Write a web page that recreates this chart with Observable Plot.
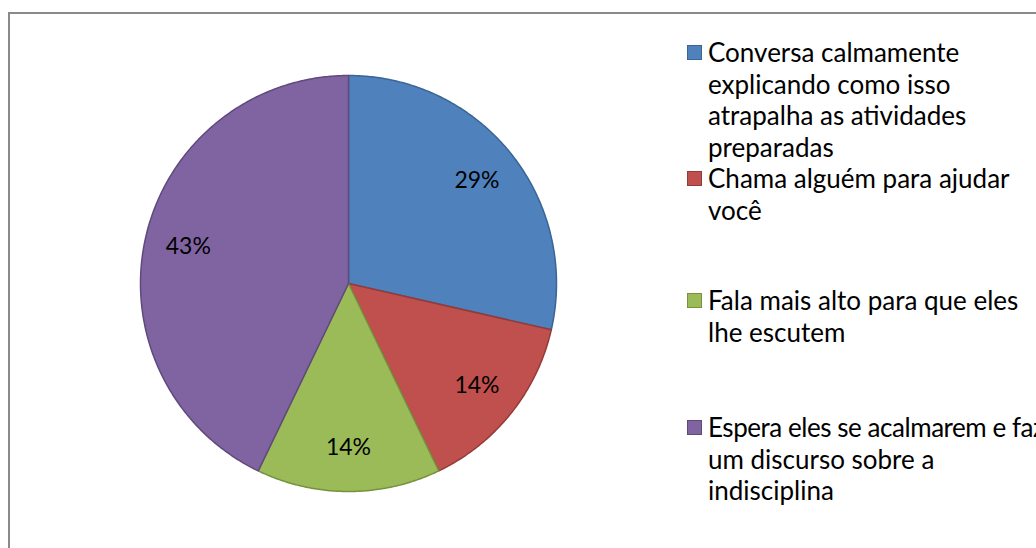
<!DOCTYPE html>
<html>
<head>
<meta charset="utf-8">
<script src="https://cdn.jsdelivr.net/npm/d3@7"></script>
<script src="https://cdn.jsdelivr.net/npm/@observablehq/plot@0.6"></script>
<style>
  html, body { margin: 0; padding: 0; background: #fff; }
  #wrap { position: relative; width: 1036px; height: 548px; overflow: hidden; background: #fff; }
  #frame { position: absolute; left: 8px; top: 12px; width: 1100px; height: 600px; border: 2px solid #8a8a8a; box-sizing: border-box; }
  #chart { position: absolute; left: 0; top: 0; }
  #legend { position: absolute; left: 0; top: 0; font-family: Lato, "Noto Sans", sans-serif; font-size: 26px; color: #000; }
  .entry { position: absolute; left: 708px; line-height: 31.5px; white-space: nowrap; }
  .tight { letter-spacing: -0.45px; }
  .sw { position: absolute; width: 13px; height: 13px; border: 1px solid; }
</style>
</head>
<body>
<div id="wrap">
  <div id="frame"></div>
  <div id="chart"></div>
  <div id="legend"></div>
</div>
<script>
// Data
const categories = [
  "Conversa calmamente explicando como isso atrapalha as atividades preparadas",
  "Chama alguém para ajudar você",
  "Fala mais alto para que eles lhe escutem",
  "Espera eles se acalmarem e faz um discurso sobre a indisciplina"
];
const legendLines = [
  ["Conversa calmamente", "explicando como isso", "atrapalha as atividades", "preparadas"],
  ["Chama alguém para ajudar", "você"],
  ["Fala mais alto para que eles", "lhe escutem"],
  ["Espera eles se acalmarem e faz", "um discurso sobre a", "indisciplina"]
];
const values = [2, 1, 1, 3];
const labels = ["29%", "14%", "14%", "43%"];
const fillColors = ["#4F81BD", "#C0504D", "#9BBB59", "#8064A2"];
const edgeColors = ["#3A6595", "#943B39", "#76923C", "#5F4A7B"];

// Layout
const W = 1036, H = 548;
const cx = 348, cy = 283, R = 208;

const pie = d3.pie().sort(null).value(d => d)(values);

// Slice polygons in unit-circle coordinates (angle clockwise from top)
const polys = [];
pie.forEach((p, i) => {
  polys.push({cat: categories[i], i, x: 0, y: 0});
  const steps = Math.max(2, Math.ceil((p.endAngle - p.startAngle) / (Math.PI / 360)));
  for (let k = 0; k <= steps; k++) {
    const a = p.startAngle + (p.endAngle - p.startAngle) * k / steps;
    polys.push({cat: categories[i], i, x: Math.sin(a), y: Math.cos(a)});
  }
  polys.push({cat: categories[i], i, x: 0, y: 0});
});
const labelData = pie.map((p, i) => {
  const a = (p.startAngle + p.endAngle) / 2;
  return {label: labels[i], x: 0.79 * Math.sin(a), y: 0.79 * Math.cos(a)};
});

const plot = Plot.plot({
  width: W,
  height: H,
  margin: 0,
  style: {background: "transparent", overflow: "visible"},
  x: {domain: [-cx / R, (W - cx) / R], axis: null},
  y: {domain: [-(H - cy) / R, cy / R], axis: null},
  color: {type: "identity"},
  marks: [
    Plot.line(polys, {
      x: "x", y: "y", z: "cat",
      fill: d => fillColors[d.i],
      stroke: d => edgeColors[d.i],
      strokeWidth: 1.5,
      strokeLinejoin: "round",
      curve: "linear"
    }),
    Plot.text(labelData, {
      x: "x", y: "y", text: "label",
      fontSize: 23,
      fontFamily: 'Lato, "Noto Sans", sans-serif',
      fill: "#000"
    })
  ]
});
document.getElementById("chart").appendChild(plot);

// Legend
const legendTops = [37, 163, 285, 412];
const legend = document.getElementById("legend");
legendLines.forEach((lines, i) => {
  const sw = document.createElement("div");
  sw.className = "sw";
  sw.style.left = "687px";
  sw.style.top = (legendTops[i] + 16 - 8) + "px";
  sw.style.background = fillColors[i];
  sw.style.borderColor = edgeColors[i];
  legend.appendChild(sw);
  const e = document.createElement("div");
  e.className = "entry";
  e.style.top = legendTops[i] + "px";
  e.innerHTML = lines.map(l => i === 3 && l.length > 25 ? `<span class="tight">${l}</span>` : l).join("<br>");
  legend.appendChild(e);
});
</script>
</body>
</html>
